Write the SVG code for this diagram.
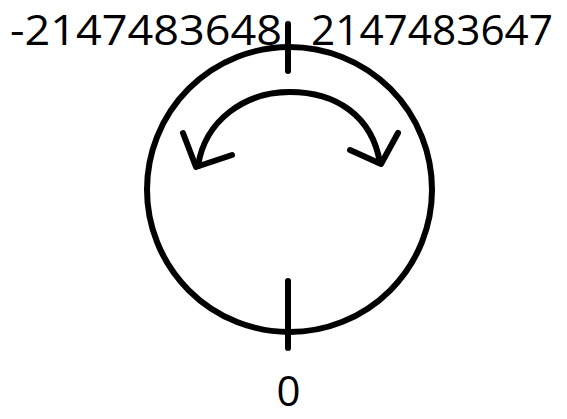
<svg xmlns="http://www.w3.org/2000/svg" width="567" height="419" viewBox="0 0 567 419">
<defs>
<style>
.t{font-family:"Open Sans","Noto Sans","Liberation Sans",sans-serif;font-size:42px;fill:#000}
.s{fill:none;stroke:#000;stroke-width:6;stroke-linecap:round;stroke-linejoin:round}
</style>
</defs>
<rect width="567" height="419" fill="#fff"/>
<g id="ring">
<circle class="s" cx="289.5" cy="189.5" r="142.5" stroke-width="5.5"/>
</g>
<g id="connectors">
<path id="top-tick" class="s" d="M288,24 L288,71"/>
<path id="bottom-tick" class="s" d="M288,281 L288,348"/>
<path id="arc" class="s" d="M198,166 C205,120 245,92 290,92 C335,92 372,115 380,163"/>
<path id="left-head" class="s" d="M183,133 L196,167 L232,155"/>
<path id="right-head" class="s" d="M398,133 L381,164 L350,150"/>
</g>
<g id="labels">
<text id="min" class="t" x="10" y="45" textLength="272" lengthAdjust="spacingAndGlyphs">-2147483648</text>
<text id="max" class="t" x="311" y="45" textLength="242" lengthAdjust="spacingAndGlyphs">2147483647</text>
<text id="zero" class="t" x="288.5" y="406" text-anchor="middle">0</text>
</g>
</svg>
